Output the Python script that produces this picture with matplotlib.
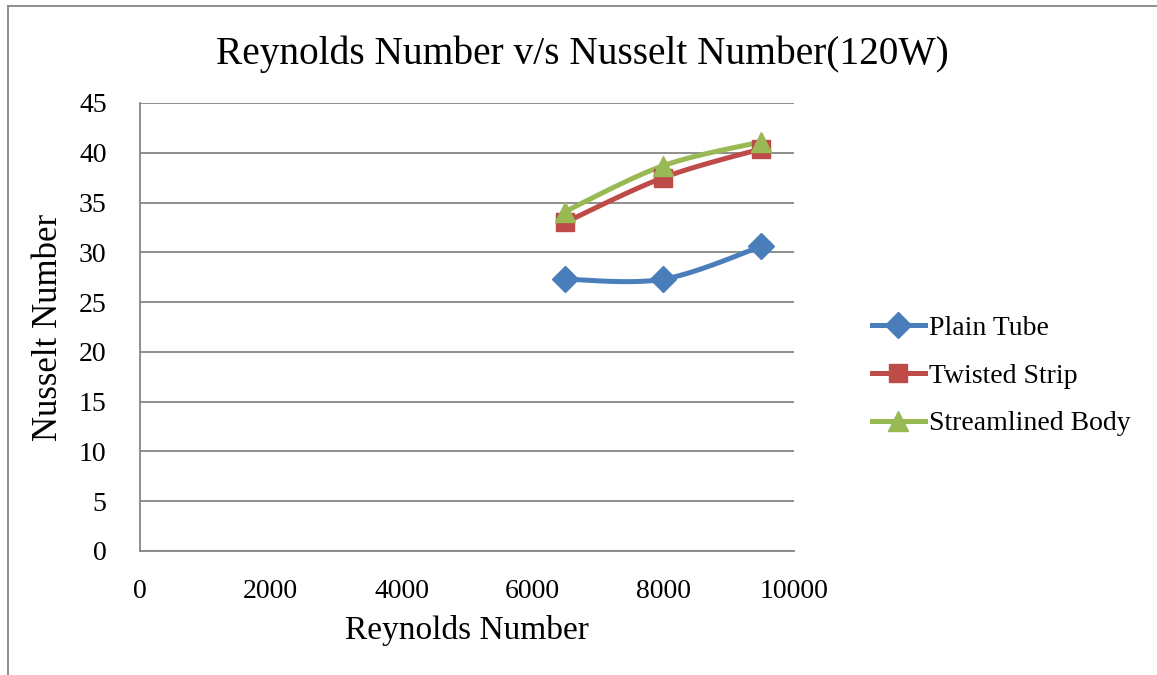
import numpy as np
import matplotlib
matplotlib.use("Agg")
import matplotlib.pyplot as plt
from matplotlib.lines import Line2D

plt.rcParams['font.family'] = ['Liberation Serif', 'DejaVu Serif']

reynolds = [6500, 8000, 9500]
plain_tube = [27.3, 27.3, 30.6]
twisted_strip = [33.0, 37.5, 40.4]
streamlined_body = [34.1, 38.7, 41.1]
series_names = ['Plain Tube', 'Twisted Strip', 'Streamlined Body']
colors = ['#4A7EBB', '#BE4B48', '#98B954']
markers = ['D', 's', '^']
msizes = [13, 13, 15]


def smooth(x, y, n=40):
    # excel-like smoothed line (bezier through points, catmull-rom tangents)
    pts = np.column_stack([np.asarray(x, float), np.asarray(y, float)])
    out = []
    for i in range(len(pts) - 1):
        p0 = pts[max(i - 1, 0)]
        p1 = pts[i]
        p2 = pts[i + 1]
        p3 = pts[min(i + 2, len(pts) - 1)]
        c1 = p1 + (p2 - p0) / 6
        c2 = p2 - (p3 - p1) / 6
        t = np.linspace(0, 1, n)[:, None]
        seg = (1 - t) ** 3 * p1 + 3 * (1 - t) ** 2 * t * c1 + 3 * (1 - t) * t ** 2 * c2 + t ** 3 * p2
        out.append(seg)
    seg = np.vstack(out)
    return seg[:, 0], seg[:, 1]


fig = plt.figure(figsize=(11.57, 6.75), dpi=100)
ax = fig.add_axes([140 / 1157, 1 - 551 / 675, 654 / 1157, 448 / 675])

for ys, name, c, m, ms in zip([plain_tube, twisted_strip, streamlined_body],
                              series_names, colors, markers, msizes):
    sx, sy = smooth(reynolds, ys)
    ax.plot(sx, sy, color=c, lw=3.6, solid_capstyle='round', zorder=3)
    ax.plot(reynolds, ys, ls='none', marker=m, ms=ms, color=c, zorder=4)

ax.set_xlim(0, 10000)
ax.set_ylim(0, 45)
ax.set_xticks(range(0, 10001, 2000))
ax.set_yticks(range(0, 46, 5))
ax.tick_params(length=0, labelsize=20)
ax.tick_params(axis='x', pad=20)
ax.tick_params(axis='y', pad=24)
ax.grid(axis='y', color='#868686', lw=1.3)
ax.set_axisbelow(True)
for s in ['top', 'right']:
    ax.spines[s].set_visible(False)
for s in ['left', 'bottom']:
    ax.spines[s].set_color('#868686')
    ax.spines[s].set_linewidth(1.3)

ax.set_xlabel('Reynolds Number', fontsize=24, labelpad=8)
ax.set_ylabel('Nusselt Number', fontsize=25, labelpad=10)
fig.text(582 / 1157, 1 - 54 / 675, 'Reynolds Number v/s Nusselt Number(120W)',
         ha='center', va='center', fontsize=28.4)

handles = [Line2D([], [], color=c, lw=3.6, marker=m, ms=ms)
           for c, m, ms in zip(colors, markers, msizes)]
fig.legend(handles, series_names, loc='center left',
           bbox_to_anchor=(858 / 1157, 1 - 376 / 675), frameon=False,
           fontsize=20, handlelength=1.9, handletextpad=0.15, labelspacing=0.8,
           borderpad=0)

# outer chart border
fig.add_artist(Line2D([8 / 1157, 8 / 1157], [0, 1 - 6 / 675], transform=fig.transFigure,
                      color='#868686', lw=1.3))
fig.add_artist(Line2D([8 / 1157, 1], [1 - 6 / 675, 1 - 6 / 675], transform=fig.transFigure,
                      color='#868686', lw=1.3))

fig.savefig('out.png', dpi=100)
